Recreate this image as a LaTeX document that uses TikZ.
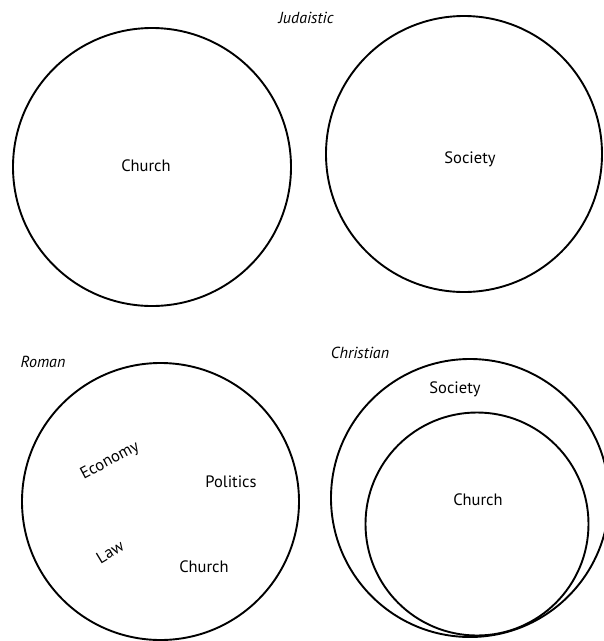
\documentclass[tikz,border=0pt]{standalone}
\usepackage{fontspec}
\setmainfont{PT Sans}
\begin{document}
\begin{tikzpicture}[x=1pt,y=-1pt,
  ring/.style={draw=black,line width=1.9pt,circle,inner sep=0pt},
  lbl/.style={font=\fontsize{16.5}{18}\selectfont,inner sep=0pt},
  ttl/.style={font=\fontsize{16}{18}\selectfont\itshape,inner sep=0pt}]
\useasboundingbox (0,0) rectangle (604,641);
% top row
\node[ring,minimum size=278pt] (jc) at (152,167) {};
\node[ring,minimum size=276pt] (js) at (464,154) {};
\node[ttl] (tj) at (306,18) {Judaistic};
\node[lbl] (jct) at (146,166) {Church};
\node[lbl] (jst) at (470,159) {Society};
% Roman
\node[ttl] (tr) at (43,362) {Roman};
\node[ring,minimum size=277pt] (rc) at (160.5,501.5) {};
\node[lbl,rotate=28] (re) at (110,461) {Economy};
\node[lbl] (rp) at (231,482) {Politics};
\node[lbl,rotate=31] (rl) at (110,552) {Law};
\node[lbl] (rch) at (204,567) {Church};
% Christian
\node[ttl] (tc) at (360,353) {Christian};
\node[ring,minimum size=278pt] (cs) at (470,498) {};
\node[ring,minimum size=223pt] (cc) at (477,524) {};
\node[lbl] (cst) at (455,389) {Society};
\node[lbl] (cct) at (478,500) {Church};
\end{tikzpicture}
\end{document}
